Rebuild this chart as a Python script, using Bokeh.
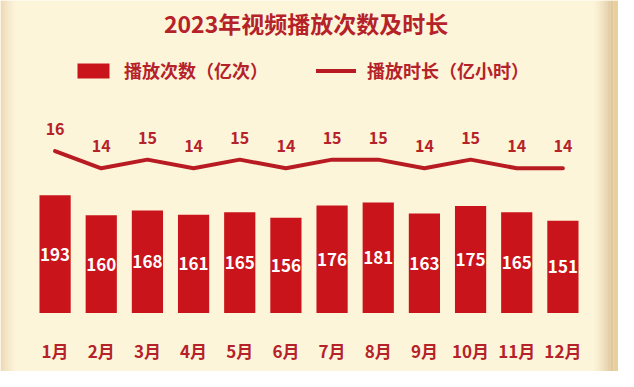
from bokeh.plotting import figure
from bokeh.models import (Range1d, ColumnDataSource, Label, Legend,
                          LegendItem, BoxAnnotation)
from bokeh.core.properties import value
from bokeh.embed import file_html
from bokeh.resources import INLINE

# ---- data ----
month_idx = list(range(1, 13))
month_labels = ["1月", "2月", "3月", "4月", "5月", "6月",
                "7月", "8月", "9月", "10月", "11月", "12月"]
plays = [193, 160, 168, 161, 165, 156, 176, 181, 163, 175, 165, 151]   # 播放次数（亿次）
hours = [16, 14, 15, 14, 15, 14, 15, 15, 14, 15, 14, 14]               # 播放时长（亿小时）
title_text = "2023年视频播放次数及时长"
legend_bar = "播放次数（亿次）"
legend_line = "播放时长（亿小时）"

# ---- style ----
FONT = "Noto Sans CJK SC"
BG = "#FDF5DA"
BAR = "#C9141B"
DARK = "#B52229"
LINE = "#B81C22"

W, H = 618, 371
X0, XS = 8.42, 46.165          # pixel of x=0, pixels per month


def px_x(px):
    return (px - X0) / XS


p = figure(width=W, height=H, output_backend="svg", toolbar_location=None,
           x_range=Range1d(px_x(0), px_x(W)), y_range=Range1d(-95.8, 511.7),
           min_border_left=0, min_border_right=0, min_border_top=0,
           min_border_bottom=0, background_fill_color=BG,
           border_fill_color=BG, outline_line_color=None)
p.extra_y_ranges = {"dur": Range1d(-9.55, 33.44)}
p.grid.visible = False
p.axis.visible = False

# edge shading of the card
for i, a in enumerate([0.30, 0.24, 0.18, 0.12, 0.07, 0.03]):
    p.add_layout(BoxAnnotation(left=px_x(i * 2.4), right=px_x((i + 1) * 2.4),
                               fill_color="#C9A070", fill_alpha=a, line_color=None,
                               level="underlay"))
for i, a in enumerate([0.05, 0.10, 0.17, 0.25, 0.33, 0.42, 0.50]):
    p.add_layout(BoxAnnotation(left=px_x(594 + i * 2.7), right=px_x(594 + (i + 1) * 2.7),
                               fill_color="#C29A66", fill_alpha=a, line_color=None,
                               level="underlay"))
p.add_layout(BoxAnnotation(left=px_x(613), right=px_x(W), fill_color="#E2C68C",
                           fill_alpha=0.8, line_color=None, level="underlay"))

src = ColumnDataSource(dict(x=month_idx, plays=plays, half=[v / 2 for v in plays],
                            hours=hours, plabel=[str(v) for v in plays],
                            hlabel=[str(v) for v in hours], month=month_labels,
                            my=[-61.2] * len(month_idx)))

bars = p.vbar(x="x", top="plays", bottom=0, width=0.676, source=src,
              fill_color=BAR, line_color=None)
p.text(x="x", y="half", text="plabel", source=src, text_color="white",
       text_font=value(FONT), text_font_style="bold", text_font_size="17px",
       text_align="center", text_baseline="middle")

line = p.line(x="x", y="hours", source=src, y_range_name="dur",
              line_color=LINE, line_width=4, line_join="round", line_cap="round")
p.text(x="x", y="hours", text="hlabel", source=src, y_range_name="dur",
       y_offset=-22, text_color=DARK, text_font=value(FONT),
       text_font_style="bold", text_font_size="16px",
       text_align="center", text_baseline="middle")

# month labels
p.text(x="x", y="my", text="month", source=src, text_color=DARK,
       text_font=value(FONT), text_font_style="bold", text_font_size="17px",
       text_align="center", text_baseline="middle")

# title
p.add_layout(Label(x=6.437, y=475.6, text=title_text, text_font=FONT,
                   text_font_style="bold", text_font_size="23px",
                   text_color=DARK, text_align="center", text_baseline="middle"))

# legend
legend = Legend(items=[LegendItem(label=legend_bar, renderers=[bars]),
                       LegendItem(label=legend_line, renderers=[line])],
                location=(73, 288), orientation="horizontal",
                glyph_width=40, glyph_height=19, label_height=19,
                label_standoff=11, spacing=48, padding=0, margin=0,
                border_line_color=None, background_fill_alpha=0,
                label_text_font=FONT, label_text_font_style="bold",
                label_text_font_size="18px", label_text_color=DARK)
p.add_layout(legend)

open("out.html", "w").write(file_html(p, INLINE))
